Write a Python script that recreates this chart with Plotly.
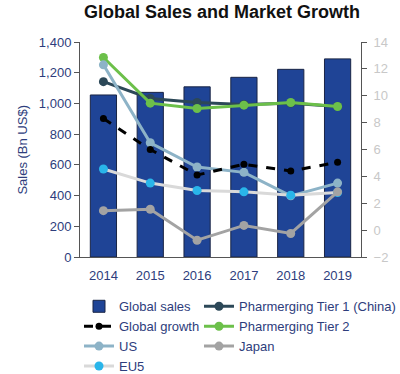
import plotly.graph_objects as go

years = ["2014", "2015", "2016", "2017", "2018", "2019"]
global_sales = [1055, 1072, 1108, 1170, 1222, 1290]
global_growth = [8.3, 6.0, 4.1, 4.9, 4.4, 5.05]
tier1 = [11.05, 9.8, 9.5, 9.35, 9.45, 9.2]
tier2 = [12.85, 9.45, 9.05, 9.3, 9.5, 9.2]
us = [12.3, 6.5, 4.7, 4.3, 2.55, 3.5]
japan = [1.45, 1.55, -0.75, 0.35, -0.25, 2.85]
eu5 = [4.55, 3.5, 2.95, 2.85, 2.6, 2.8]
y_title = "Sales (Bn US$)"

navy = "#2e3d7c"
font = "Arial, Liberation Sans, sans-serif"

fig = go.Figure()
fig.add_trace(go.Bar(x=years, y=global_sales, name="Global sales",
                     marker=dict(color="#1f4496", line=dict(color="#1a2545", width=1)),
                     width=0.56, legend="legend", legendrank=1))

def line(y, name, lc, mc, rank, leg, dash="solid", msize=9):
    fig.add_trace(go.Scatter(x=years, y=y, name=name, yaxis="y2", mode="lines+markers",
                             line=dict(color=lc, width=3, dash=dash),
                             marker=dict(color=mc, size=msize), legend=leg,
                             legendrank=rank))

line(tier1, "Pharmerging Tier 1 (China)", "#2c4858", "#2c4858", 1, "legend2")
line(tier2, "Pharmerging Tier 2", "#6cc04a", "#6cc04a", 2, "legend2")
line(us, "US", "#8db3c7", "#8db3c7", 3, "legend")
line(eu5, "EU5", "#d9d9d9", "#29b5ea", 4, "legend")
line(japan, "Japan", "#a3a3a3", "#a3a3a3", 3, "legend2")
line(global_growth, "Global growth", "#000000", "#000000", 2, "legend", dash="dash", msize=7)

legend_common = dict(orientation="v", xanchor="left", yanchor="top",
                     xref="container", yref="container",
                     font=dict(size=13, color=navy), traceorder="normal",
                     tracegroupgap=0, itemwidth=30, bgcolor="rgba(0,0,0,0)")

fig.update_layout(
    width=400, height=374,
    margin=dict(l=80, r=39, t=42, b=117, autoexpand=False),
    paper_bgcolor="white", plot_bgcolor="white",
    font=dict(family=font, size=13, color=navy),
    title=dict(text="<b>Global Sales and Market Growth</b>", x=0.555, xanchor="center",
               y=0.968, yanchor="middle", font=dict(size=18, color="#111111")),
    showlegend=True,
    legend=dict(x=0.1975, y=0.221, **legend_common),
    legend2=dict(x=0.4975, y=0.221, **legend_common),
    xaxis=dict(type="category", showline=True, linecolor="#555555", linewidth=1,
               ticks="", showgrid=False, tickfont=dict(color=navy, size=13),
               ticklabelstandoff=6),
    yaxis=dict(range=[0, 1400], dtick=200, tickformat=",", showline=True,
               linecolor="#555555", ticks="outside", ticklen=5, tickcolor="#555555",
               showgrid=False, zeroline=False,
               tickfont=dict(color=navy, size=13)),
    yaxis2=dict(range=[-2, 14], dtick=2, overlaying="y", side="right", showline=True,
                linecolor="#555555", ticks="outside", ticklen=5, tickcolor="#555555",
                showgrid=False, zeroline=False, ticklabelstandoff=4,
                tickfont=dict(color="#c8c8c8", size=13)),
    annotations=[dict(text=y_title, xref="paper", yref="paper", x=-0.206, y=0.5,
                      xanchor="center", yanchor="middle", textangle=-90, showarrow=False,
                      font=dict(color=navy, size=13))],
)

fig.write_html("out.html", config={"displayModeBar": False},
               post_script="document.body.style.margin='0px';")
